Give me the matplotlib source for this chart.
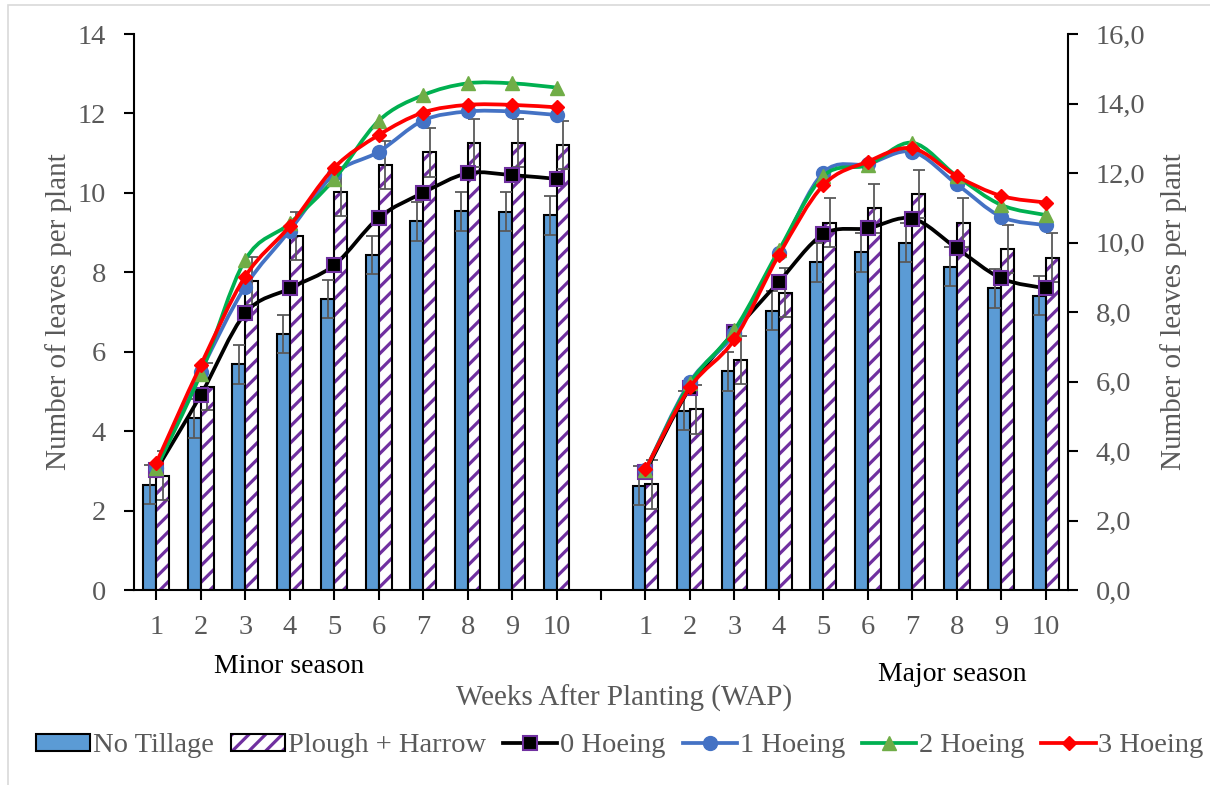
import numpy as np
import matplotlib
matplotlib.use("Agg")
import matplotlib.pyplot as plt
from matplotlib.path import Path
from matplotlib.patches import PathPatch, Patch, Rectangle
from matplotlib.lines import Line2D
from matplotlib.ticker import FuncFormatter, MultipleLocator

plt.rcParams['font.family'] = ['Liberation Serif', 'DejaVu Serif']
plt.rcParams['hatch.linewidth'] = 2.3

# --- data -------------------------------------------------------------
weeks = [1, 2, 3, 4, 5, 6, 7, 8, 9, 10]

# bars (left axis)
no_tillage_minor = [2.65, 4.32, 5.68, 6.45, 7.32, 8.44, 9.28, 9.54, 9.53, 9.43]
plough_minor = [2.88, 5.12, 7.78, 8.92, 10.03, 10.70, 11.02, 11.25, 11.25, 11.21]
no_tillage_major = [2.63, 4.51, 5.51, 7.03, 8.25, 8.50, 8.75, 8.14, 7.60, 7.41]
plough_major = [2.66, 4.55, 5.79, 7.49, 9.25, 9.61, 9.97, 9.25, 8.58, 8.37]

no_tillage_err_minor = [0.49, 0.49, 0.49, 0.48, 0.48, 0.48, 0.49, 0.49, 0.48, 0.49]
plough_err_minor = [0.62, 0.60, 0.61, 0.60, 0.62, 0.61, 0.61, 0.61, 0.61, 0.61]
no_tillage_err_major = [0.48, 0.49, 0.49, 0.49, 0.49, 0.49, 0.49, 0.49, 0.49, 0.49]
plough_err_major = [0.62, 0.61, 0.61, 0.61, 0.61, 0.61, 0.61, 0.61, 0.61, 0.61]

# lines (right axis)
hoe0_minor = [3.45, 5.61, 7.96, 8.68, 9.35, 10.71, 11.43, 11.99, 11.94, 11.83]
hoe1_minor = [3.50, 6.28, 8.73, 10.34, 11.97, 12.61, 13.51, 13.77, 13.77, 13.67]
hoe2_minor = [3.50, 6.22, 9.50, 10.55, 11.82, 13.50, 14.24, 14.58, 14.58, 14.46]
hoe3_minor = [3.65, 6.47, 9.02, 10.47, 12.15, 13.09, 13.74, 13.96, 13.96, 13.89]

hoe0_major = [3.40, 5.82, 7.43, 8.87, 10.24, 10.41, 10.69, 9.83, 8.97, 8.68]
hoe1_major = [3.45, 5.99, 7.39, 9.71, 12.01, 12.26, 12.61, 11.68, 10.74, 10.50]
hoe2_major = [3.45, 5.95, 7.48, 9.78, 11.91, 12.23, 12.87, 11.91, 11.08, 10.79]
hoe3_major = [3.47, 5.83, 7.21, 9.64, 11.65, 12.33, 12.71, 11.91, 11.34, 11.15]

GRAY = '#595959'
BLUE_BAR = '#5B9BD5'
PURPLE = '#7030A0'


# Excel-like smoothed line as a bezier path
def smooth_path(xs, ys):
    pts = np.column_stack([xs, ys]).astype(float)
    n = len(pts)
    verts = [pts[0]]
    codes = [Path.MOVETO]
    for i in range(n - 1):
        p0 = pts[max(i - 1, 0)]
        p1 = pts[i]
        p2 = pts[i + 1]
        p3 = pts[min(i + 2, n - 1)]
        verts += [p1 + (p2 - p0) / 6, p2 - (p3 - p1) / 6, p2]
        codes += [Path.CURVE4] * 3
    return Path(verts, codes)


fig = plt.figure(figsize=(12.1, 7.85), dpi=100)
ax = fig.add_axes([134 / 1210, 1 - 590 / 785, 934 / 1210, 556 / 785])
ax2 = ax.twinx()

x_minor = np.arange(len(weeks))
x_major = np.arange(len(weeks)) + len(weeks) + 1
w = 0.29

for xs, nt, ph, nte, phe in [(x_minor, no_tillage_minor, plough_minor, no_tillage_err_minor, plough_err_minor),
                             (x_major, no_tillage_major, plough_major, no_tillage_err_major, plough_err_major)]:
    ax.bar(xs - w, nt, w, align='edge', color=BLUE_BAR, edgecolor='black', linewidth=1.5, zorder=2)
    ax.bar(xs, ph, w, align='edge', color='white', edgecolor=PURPLE, hatch='//', linewidth=0, zorder=2)
    ax.bar(xs, ph, w, align='edge', fill=False, edgecolor='black', linewidth=1.5, zorder=2)
    ax.errorbar(xs - w / 2, nt, yerr=nte, fmt='none', ecolor=GRAY, elinewidth=1.3,
                capsize=4.3, capthick=1.3, zorder=3)
    ax.errorbar(xs + w / 2, ph, yerr=phe, fmt='none', ecolor=GRAY, elinewidth=1.3,
                capsize=4.3, capthick=1.3, zorder=3)

line_styles = [
    ('0 Hoeing', hoe0_minor, hoe0_major, 'black', dict(marker='s', markersize=9.5, markerfacecolor='black',
                                                       markeredgecolor=PURPLE, markeredgewidth=1.5)),
    ('1 Hoeing', hoe1_minor, hoe1_major, '#4472C4', dict(marker='o', markersize=10, markerfacecolor='#4472C4',
                                                         markeredgecolor='#4472C4')),
    ('2 Hoeing', hoe2_minor, hoe2_major, '#00B050', dict(marker='^', markersize=10, markerfacecolor='#70AD47',
                                                         markeredgecolor='#70AD47')),
    ('3 Hoeing', hoe3_minor, hoe3_major, '#FF0000', dict(marker='D', markersize=7, markerfacecolor='#FF0000',
                                                         markeredgecolor='#FF0000')),
]

line_handles = []
for k, (name, vmin, vmaj, col, mk) in enumerate(line_styles):
    for xs, vals in [(x_minor, vmin), (x_major, vmaj)]:
        ax2.add_patch(PathPatch(smooth_path(xs, vals), fill=False, edgecolor=col,
                                linewidth=2.7, capstyle='round', zorder=3 + 2 * k))
        ax2.plot(xs, vals, linestyle='none', zorder=4 + 2 * k, **mk)
    line_handles.append(Line2D([], [], color=col, linewidth=2.7, **mk))

# axes formatting
ax.set_xlim(-0.5, 2 * len(weeks) + 0.5)
ax.set_ylim(0, 14)
ax2.set_ylim(0, 16)
ax.yaxis.set_major_locator(MultipleLocator(2))
ax2.yaxis.set_major_locator(MultipleLocator(2))
ax2.yaxis.set_major_formatter(FuncFormatter(lambda v, p: f"{v:.1f}".replace('.', ',')))

tick_pos = list(x_minor) + [len(weeks)] + list(x_major)
tick_lab = [str(v) for v in weeks] + [''] + [str(v) for v in weeks]
ax.set_xticks(tick_pos)
ax.set_xticklabels(tick_lab)

for a in (ax, ax2):
    a.spines['top'].set_visible(False)
ax.spines['right'].set_visible(False)
ax2.spines['left'].set_visible(False)
ax2.spines['bottom'].set_visible(False)
for sp in ['left', 'bottom']:
    ax.spines[sp].set_linewidth(1.5)
ax2.spines['right'].set_linewidth(1.5)

ax.tick_params(axis='y', direction='out', length=7, width=1.5, pad=13, labelsize=20.5, labelcolor=GRAY)
ax.tick_params(axis='x', direction='out', length=7, width=1.5, pad=11, labelsize=20.5, labelcolor=GRAY)
ax2.tick_params(axis='y', direction='out', length=7, width=1.5, pad=13, labelsize=20.5, labelcolor=GRAY)

ax.set_ylabel('Number of leaves per plant', fontsize=21, color=GRAY)
ax.yaxis.set_label_coords(-0.066, 0.5)
ax2.set_ylabel('Number of leaves per plant', fontsize=21, color=GRAY)
ax2.yaxis.set_label_coords(1.0985, 0.5)
ax.set_xlabel('Weeks After Planting (WAP)', fontsize=21, color=GRAY)
ax.xaxis.set_label_coords(0.5246, -0.17)

ax.text(0.166, -0.149, 'Minor season', transform=ax.transAxes, ha='center', va='baseline',
        fontsize=20, color='black')
ax.text(0.8758, -0.163, 'Major season', transform=ax.transAxes, ha='center', va='baseline',
        fontsize=20, color='black')

# legend
bar_handles = [Patch(facecolor=BLUE_BAR, edgecolor='black', linewidth=1.5),
               (Patch(facecolor='white', edgecolor=PURPLE, hatch='//', linewidth=0),
                Patch(fill=False, edgecolor='black', linewidth=1.5))]
labels = ['No Tillage', 'Plough + Harrow'] + [s[0] for s in line_styles]
fig.legend(bar_handles + line_handles, labels, loc='center', bbox_to_anchor=(620 / 1210, 1 - 746 / 785),
           ncol=6, frameon=False, fontsize=20.5, labelcolor=GRAY, handlelength=1.9,
           handleheight=0.55, handletextpad=0.1, columnspacing=0.6, borderaxespad=0)

# chart area border
fig.add_artist(Rectangle((8 / 1210, -0.01), 1.0, 1.01 - 5 / 785, transform=fig.transFigure,
                         fill=False, edgecolor='#D9D9D9', linewidth=1.2))

fig.savefig('out.png', dpi=100)
